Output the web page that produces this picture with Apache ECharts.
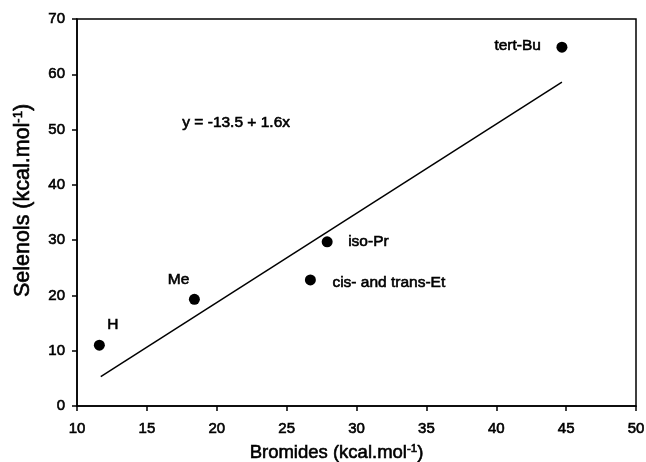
<!DOCTYPE html>
<html><head><meta charset="utf-8">
<script src="https://cdn.jsdelivr.net/npm/echarts@6/dist/echarts.min.js"></script>
<style>html,body{margin:0;padding:0;background:#fff}#c{width:646px;height:462px}</style>
</head><body><div id="c"></div>
<script>
const names = ['H', 'Me', 'cis- and trans-Et', 'iso-Pr', 'tert-Bu'];
const bromides = [11.6, 18.4, 26.7, 27.9, 44.7];
const selenols = [11.0, 19.3, 22.8, 29.7, 64.9];
const fitX = [11.7, 44.7];
const fitY = [5.3, 58.6];
const equation = 'y = -13.5 + 1.6x';
const xTicks = [10, 15, 20, 25, 30, 35, 40, 45, 50];
const yTicks = [0, 10, 20, 30, 40, 50, 60, 70];

const labelStyle = {
  'H': {align: 'left', offset: [8, -20]},
  'Me': {align: 'right', offset: [-5, -20]},
  'cis- and trans-Et': {align: 'left', offset: [22, 3]},
  'iso-Pr': {align: 'left', offset: [21, 0]},
  'tert-Bu': {align: 'right', offset: [-21, -1]}
};
const font = 'Liberation Sans, Arial, sans-serif';
const heavy = {textBorderColor: '#000', textBorderWidth: 0.6};
const chart = echarts.init(document.getElementById('c'));
chart.setOption({
  animation: false,
  backgroundColor: '#fff',
  grid: {left: 77, right: 10, top: 19, bottom: 56, show: true, borderColor: '#000', borderWidth: 1.5,
         containLabel: false, outerBoundsMode: 'none'},
  xAxis: {
    type: 'value', min: xTicks[0], max: xTicks[xTicks.length - 1], interval: 5,
    splitLine: {show: false},
    axisLine: {lineStyle: {color: '#000', width: 1.5}},
    axisTick: {inside: false, length: 5, lineStyle: {color: '#000', width: 1.5}},
    axisLabel: Object.assign({color: '#000', fontSize: 15, fontFamily: font, margin: 15}, heavy),
    name: '{t|Bromides (kcal.mol}{s|-1}{t|)}',
    nameLocation: 'middle', nameGap: 37,
    nameTextStyle: {padding: [0, 40, 0, 0], rich: {
      t: Object.assign({fontSize: 18.5, fontFamily: font, color: '#000'}, heavy),
      s: Object.assign({fontSize: 11.5, fontFamily: font, color: '#000', verticalAlign: 'top', padding: [0, 0, 8, 0]}, heavy)
    }}
  },
  yAxis: {
    type: 'value', min: yTicks[0], max: yTicks[yTicks.length - 1], interval: 10,
    splitLine: {show: false},
    axisLine: {lineStyle: {color: '#000', width: 1.5}},
    axisTick: {inside: false, length: 5, lineStyle: {color: '#000', width: 1.5}},
    axisLabel: Object.assign({color: '#000', fontSize: 15, fontFamily: font, margin: 12}, heavy),
    name: '{t|Selenols (kcal.mol}{s|-1}{t|)}',
    nameLocation: 'middle', nameGap: 42, nameRotate: 90,
    nameTextStyle: {padding: [0, 0, 0, 24], rich: {
      t: Object.assign({fontSize: 21.5, fontFamily: font, color: '#000'}, heavy),
      s: Object.assign({fontSize: 13, fontFamily: font, color: '#000', verticalAlign: 'top', padding: [0, 0, 10, 0]}, heavy)
    }}
  },
  graphic: [{
    type: 'text', left: 182, top: 114,
    style: {text: equation, fontSize: 15.5, fontFamily: font, fill: '#000', stroke: '#000', lineWidth: 0.6}
  }],
  series: [
    {
      type: 'line', data: fitX.map((x, i) => [x, fitY[i]]),
      symbol: 'none', lineStyle: {color: '#000', width: 1.5}, silent: true
    },
    {
      type: 'scatter', symbolSize: 11, itemStyle: {color: '#000', opacity: 1},
      data: names.map((n, i) => ({
        value: [bromides[i], selenols[i]], name: n,
        label: Object.assign({show: true, position: 'inside', formatter: n,
          color: '#000', fontSize: 15.5, fontFamily: font, verticalAlign: 'middle'}, heavy, labelStyle[n])
      }))
    }
  ]
});
</script></body></html>
